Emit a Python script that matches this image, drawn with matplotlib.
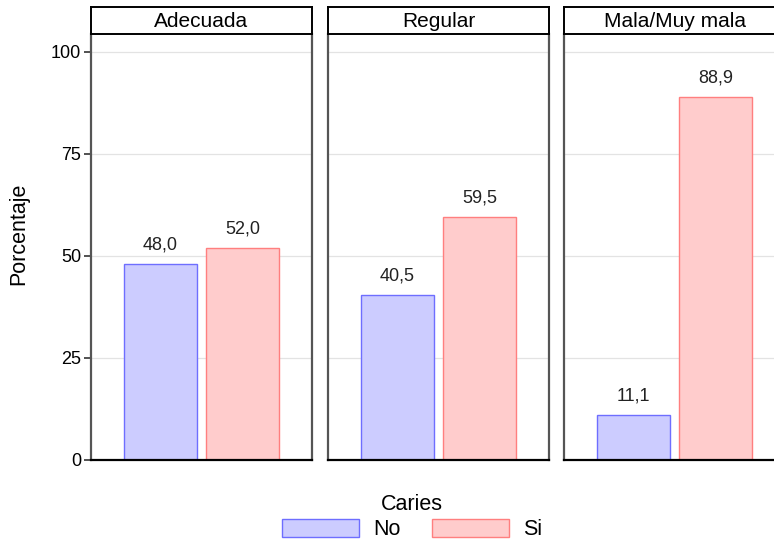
import numpy as np
import matplotlib.pyplot as plt
from matplotlib.patches import Patch

panels = ["Adecuada", "Regular", "Mala/Muy mala"]
groups = ["No", "Si"]
pct_no = [48.0, 40.5, 11.1]
pct_si = [52.0, 59.5, 88.9]
yticks = [0, 25, 50, 75, 100]

W, H = 774, 544
fill = {"No": "#ccccff", "Si": "#ffcccc"}
edge = {"No": "#6e6eff", "Si": "#ff7f7f"}

fig = plt.figure(figsize=(W / 100, H / 100), dpi=100)
plt.rcParams["font.family"] = ["Liberation Sans", "DejaVu Sans"]


def px_axes(x0, y0, x1, y1):
    # pixel box (top-left origin) -> figure fraction
    return fig.add_axes([x0 / W, 1 - y1 / H, (x1 - x0) / W, (y1 - y0) / H])


lefts = [91, 328, 564]
pw = 221
for i, (name, vno, vsi) in enumerate(zip(panels, pct_no, pct_si)):
    x0 = lefts[i]
    ax = px_axes(x0, 34, x0 + pw, 460)
    ax.set_ylim(0, 104.4)
    ax.set_xlim(0.5 - 1.348, 0.5 + 1.348)
    for j, (g, v) in enumerate(zip(groups, [vno, vsi])):
        ax.bar(j, v, width=0.9, color=fill[g], edgecolor=edge[g], linewidth=1.0, zorder=2)
        ax.text(j, v + 2.6, f"{v:.1f}".replace(".", ","), ha="center", va="bottom",
                fontsize=13, color="#222222")
    ax.set_yticks(yticks)
    ax.grid(axis="y", color="#e3e3e3", linewidth=0.9, zorder=0)
    ax.set_xticks([])
    for s in ["left", "right"]:
        ax.spines[s].set_color("#555555")
        ax.spines[s].set_linewidth(1.6)
    ax.spines["bottom"].set_color("black")
    ax.spines["bottom"].set_linewidth(1.6)
    ax.spines["top"].set_visible(False)
    if i == 0:
        ax.tick_params(axis="y", labelsize=13, length=5, width=1.2, color="#333333", pad=2)
        ax.set_ylabel("Porcentaje", fontsize=15.5)
        # centred over panel + strip, as ggplot does
        ax.yaxis.set_label_coords(-0.28, (460 - 233.5) / 426)
    else:
        ax.tick_params(axis="y", left=False, labelleft=False)

    st = px_axes(x0, 7, x0 + pw, 34)
    st.set_xticks([])
    st.set_yticks([])
    for s in st.spines.values():
        s.set_color("black")
        s.set_linewidth(1.4)
    st.text(0.5, 0.45, name, ha="center", va="center", fontsize=15, transform=st.transAxes)

handles = [Patch(facecolor=fill[g], edgecolor=edge[g], label=g) for g in groups]
leg = fig.legend(handles=handles, loc="center", bbox_to_anchor=(412 / W, 1 - 517 / H),
                 ncol=2, frameon=False, title="Caries", fontsize=15.5, title_fontsize=15.5,
                 handlelength=3.6, handleheight=0.95, columnspacing=1.45, handletextpad=0.65,
                 borderaxespad=0, borderpad=0, labelspacing=0.2)

fig.savefig("out.png", dpi=100)
